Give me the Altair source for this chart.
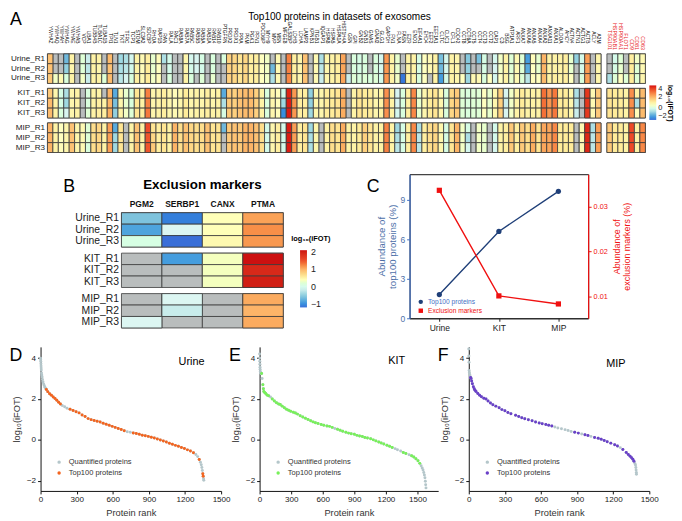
import altair as alt
import pandas as pd

N = None
FONT = "Liberation Sans"
ROWS_U = ["Urine_R1", "Urine_R2", "Urine_R3"]
ROWS_K = ["KIT_R1", "KIT_R2", "KIT_R3"]
ROWS_M = ["MIP_R1", "MIP_R2", "MIP_R3"]

GENES = """YWHAZ YWHAQ YWHAH YWHAG YWHAE YWHAB VCP UBA1 TUBB4B TUBA1C TUBA1B TPI1 TLN1 TKT TFRC TCP1 STOM SLC3A2 SDCBP RHOA RAP1B RAN RALA RAC1 RAB8A RAB7A RAB5C RAB5B RAB5A RAB1A RAB14 RAB10 PTGFRN PRDX2 PRDX1
PPIA PKM PGK1 PFN1 PDCD6IP MYH9 MVP MSN MFGE8 LGALS3BP LDHB LDHA LAMP2 KPNB1 ITGB1 IQGAP1 HSPA8 HSPA5 HSPA1A HIST1H4A GSN GPI GNB2 GNB1 GNAS GNAI2 GLG1 GAPDH FN1 FLNA FASN EZR ENO1 EIF4A1 EHD4 EEF2 EEF1A1 CLTC CLIC1 CFL1 CDC42
CCT8 CCT6A CCT5 CCT4 CCT3 CCT2 CAP1 C3 BSG ATP1A1 ARF1 ANXA7 ANXA6 ANXA5 ANXA4 ANXA2 ANXA11 ANXA1 ALDOA AHCY ACTN4 ACTN1 ACTG1 ACTB ACLY A2M""".split()
MARKERS = ["TSG101", "HSP90AB1", "HSP90AA1", "FLOT1", "CD9", "CD81", "CD63"]

Urine_R1 = [1.8,N,N,-1.0,1.0,N,0.3,-0.3,1.0,1.0,N,1.9,N,-0.6,-0.5,-0.1,1.0,0.8,1.1,0.4,0.7,-0.5,0.0,N,N,0.9,-0.1,-0.2,0.1,N,0.2,N,0.2,1.6,1.5,
 1.3,1.5,1.1,1.1,0.6,0.5,N,0.8,N,2.7,1.1,0.9,1.8,N,0.8,-0.5,0.9,1.0,1.1,2.2,N,0.2,0.1,0.2,N,0.2,-0.1,2.4,1.0,0.4,N,1.0,1.0,0.1,0.6,0.8,1.0,-0.9,-0.1,1.0,0.9,
 N,-0.8,N,-0.9,0.1,N,-0.1,0.5,1.0,0.3,0.8,0.3,-1.4,0.7,0.4,2.0,1.0,1.0,1.0,1.1,0.4,-0.7,0.0,2.3,N,0.9]
Urine_R2 = [1.8,N,N,-0.7,0.9,N,0.3,-0.4,1.0,0.9,N,1.8,N,-0.5,-0.4,0.0,1.0,0.7,1.2,0.4,0.6,N,0.0,N,N,0.9,0.0,-0.2,0.0,N,0.2,N,N,1.6,1.5,
 1.3,1.5,1.1,1.1,0.6,0.5,-1.0,0.8,N,2.7,1.1,0.9,1.8,N,0.8,-0.4,0.9,1.0,1.1,2.2,N,0.2,0.1,0.2,N,0.2,-0.1,2.4,1.0,0.4,N,1.0,1.0,0.1,0.6,0.8,1.0,-1.0,-0.1,1.0,0.9,
 N,-0.7,N,N,0.1,N,-0.2,0.5,1.0,0.3,0.8,0.3,-1.2,0.6,0.4,2.0,1.0,1.0,1.0,1.1,0.4,N,0.0,2.3,N,0.9]
Urine_R3 = [1.7,0.5,0.8,0.2,1.0,N,0.5,-0.3,1.0,1.0,0.3,1.9,N,-0.4,-0.2,0.2,1.1,0.8,1.2,0.5,0.7,N,0.2,N,N,1.0,0.2,N,0.3,N,0.4,N,N,1.6,1.5,
 1.3,1.5,1.1,1.1,0.6,0.5,-0.5,0.8,N,2.6,1.1,0.9,1.8,N,0.8,-0.3,0.9,1.0,1.1,2.2,-0.3,0.3,0.2,0.3,0.2,0.3,0.0,2.4,1.0,0.5,-1.9,1.0,1.0,0.2,0.6,N,1.0,-1.4,0.0,1.0,0.9,
 0.6,-0.6,0.8,0.8,0.2,0.6,-0.1,0.6,1.0,0.4,0.8,0.3,-0.4,0.7,0.6,1.9,1.0,1.1,1.0,1.1,0.6,N,0.2,2.3,N,0.9]
KIT_R1 = [1.7,0.9,0.1,-0.5,0.9,1.0,N,0.2,1.0,1.0,N,2.0,-1.2,0.9,0.4,0.2,1.3,1.0,2.7,0.9,1.0,1.1,0.9,0.7,0.9,1.2,0.9,1.0,0.9,1.1,0.9,1.0,-1.2,1.7,1.6,
 1.8,1.9,1.9,1.6,1.0,0.2,0.9,0.7,0.0,3.8,2.4,1.1,1.1,-0.7,0.9,0.9,1.2,1.2,1.3,2.1,N,1.0,1.3,1.2,1.2,0.9,1.0,2.5,1.0,-0.2,0.2,1.1,2.6,0.4,0.9,1.2,1.3,0.9,0.2,1.5,1.7,
 0.3,0.2,0.3,0.3,0.6,0.4,0.9,1.6,-0.2,0.5,1.0,1.2,1.0,1.0,1.0,2.9,2.4,2.8,1.2,1.2,0.9,-0.5,N,3.6,0.8,1.7]
KIT_R2 = [1.9,1.0,0.1,-0.6,0.9,1.0,N,0.2,1.0,1.1,1.0,2.0,-0.9,0.9,0.4,0.2,1.3,1.0,2.7,0.9,1.0,1.1,0.9,0.7,0.9,1.2,0.9,1.0,0.9,1.1,0.9,1.0,-0.5,1.7,1.6,
 1.8,1.9,1.9,1.6,1.0,0.2,0.9,0.7,-0.6,3.9,2.4,1.1,1.1,-0.7,0.9,0.9,1.2,1.2,1.3,2.1,N,1.0,1.3,1.2,1.2,0.9,1.0,2.5,1.0,-0.2,0.2,1.1,2.6,0.4,0.9,1.2,1.3,0.9,0.2,1.5,1.7,
 0.3,0.2,0.3,0.3,0.6,0.4,0.9,1.6,-0.3,0.5,1.0,1.2,1.0,1.0,1.0,2.9,2.4,2.8,1.2,1.2,0.9,-0.4,N,3.6,0.8,1.7]
KIT_R3 = [1.9,1.0,0.2,-0.2,0.9,1.0,N,0.3,1.0,1.1,1.1,2.1,-0.7,1.0,0.5,0.3,1.3,1.1,2.8,0.9,1.0,1.1,0.9,0.8,0.9,1.2,0.9,1.0,1.0,1.1,1.0,1.0,0.1,1.7,1.6,
 1.8,1.9,1.9,1.6,1.0,0.2,0.9,0.7,-1.6,3.9,2.4,1.1,1.1,-0.6,0.9,0.9,1.2,1.2,1.3,2.1,N,1.0,1.3,1.2,1.2,0.9,1.0,2.5,1.0,-0.1,0.2,1.1,2.6,0.4,0.9,1.2,1.3,0.9,0.2,1.5,1.7,
 0.3,0.2,0.3,0.3,0.6,0.4,0.9,1.6,-0.2,0.5,1.0,1.2,1.0,1.0,1.0,2.9,2.4,2.8,1.2,1.2,0.9,-0.3,N,3.6,0.8,1.7]
MIP_R1 = [2.0,1.0,0.6,0.9,1.8,0.9,0.8,0.3,1.4,1.5,1.0,2.3,-1.2,1.3,N,1.0,1.8,1.0,3.3,1.3,1.1,1.3,1.0,2.0,1.4,1.8,1.5,1.4,1.4,1.8,1.3,1.3,-1.0,1.7,1.8,
 1.7,2.0,2.0,1.8,1.4,0.0,0.9,1.1,0.0,3.9,2.3,1.1,1.3,-0.6,0.9,N,1.0,1.4,1.3,2.1,1.0,1.0,1.2,1.6,1.3,1.0,1.0,2.7,1.0,-0.6,0.1,1.1,2.6,-0.5,1.1,1.4,1.5,0.9,0.1,1.3,2.0,
 0.5,0.1,N,0.5,0.4,N,0.0,1.0,1.1,1.7,1.1,1.7,1.4,2.1,1.3,2.2,2.2,2.6,1.2,1.2,1.2,N,0.8,3.8,-0.5,2.3]
MIP_R2 = [2.0,1.0,0.6,0.9,1.8,0.9,0.8,0.3,1.4,1.5,1.0,2.3,-0.6,1.3,N,1.0,1.8,1.0,3.2,1.5,1.1,1.3,1.0,2.0,1.4,1.8,1.5,1.4,1.4,1.8,1.3,1.3,N,1.7,1.8,
 1.7,2.0,2.0,1.8,1.4,0.0,0.9,1.1,0.0,3.9,2.3,1.1,1.3,-0.5,0.9,N,1.0,1.4,1.3,2.1,1.0,1.0,1.2,1.6,1.3,1.0,1.0,2.7,1.0,-0.5,0.1,1.1,2.6,-0.4,1.1,1.4,1.5,0.9,0.1,1.3,2.0,
 0.5,-0.5,N,0.5,0.4,N,0.0,1.0,1.1,1.7,1.1,1.7,1.4,2.1,1.3,2.2,2.2,2.6,1.2,1.2,1.2,N,0.8,3.8,-0.4,2.3]
MIP_R3 = [2.0,1.0,0.7,0.9,1.8,0.9,0.8,0.2,1.4,1.5,1.0,2.3,-0.6,1.3,N,1.0,1.8,0.9,3.2,1.7,1.1,1.3,1.0,2.0,1.4,1.8,1.5,1.4,1.4,1.8,1.3,1.3,N,1.7,1.8,
 1.7,2.0,2.0,1.8,1.4,0.0,0.9,1.1,0.0,3.9,2.3,1.1,1.3,-0.5,0.9,N,1.0,1.4,1.3,2.1,1.0,1.0,1.2,1.6,1.3,1.0,1.0,2.7,1.0,-0.4,0.1,1.1,2.6,-0.4,1.1,1.4,1.5,0.9,0.1,1.3,2.0,
 0.5,-0.1,N,0.5,0.4,N,-0.1,1.0,1.1,1.7,1.1,1.7,1.4,2.1,1.3,2.2,2.2,2.6,1.2,1.2,1.2,N,0.8,3.8,-0.4,2.3]

MARK_VALUES = {
 "Urine_R1": [N,0.0,0.3,N,1.1,0.5,0.8],
 "Urine_R2": [N,0.1,0.4,N,1.2,0.3,0.8],
 "Urine_R3": [-0.5,0.3,0.6,0.3,1.2,0.3,0.9],
 "KIT_R1": [1.3,1.2,1.2,1.0,2.5,1.0,1.9],
 "KIT_R2": [1.3,1.2,1.2,1.0,2.5,-0.5,1.9],
 "KIT_R3": [1.3,1.2,1.2,1.0,2.5,0.7,1.9],
 "MIP_R1": [1.7,1.2,1.2,1.0,3.3,1.0,2.6],
 "MIP_R2": [1.7,1.2,1.2,1.0,3.3,1.0,2.6],
 "MIP_R3": [1.7,1.2,1.2,1.0,3.3,1.0,2.6],
}
MAIN_VALUES = {"Urine_R1": Urine_R1, "Urine_R2": Urine_R2, "Urine_R3": Urine_R3,
               "KIT_R1": KIT_R1, "KIT_R2": KIT_R2, "KIT_R3": KIT_R3,
               "MIP_R1": MIP_R1, "MIP_R2": MIP_R2, "MIP_R3": MIP_R3}

EXCL = ["PGM2", "SERBP1", "CANX", "PTMA"]
EXCL_VALUES = {
 "Urine_R1": [-0.6,-1.1,0.4,1.1],
 "Urine_R2": [-0.85,-0.1,0.4,1.2],
 "Urine_R3": [0.1,-1.25,0.45,1.15],
 "KIT_R1": [N,-0.9,0.35,2.1],
 "KIT_R2": [N,N,0.35,1.9],
 "KIT_R3": [N,N,0.35,2.0],
 "MIP_R1": [N,-0.1,N,1.05],
 "MIP_R2": [N,-0.2,N,1.0],
 "MIP_R3": [-0.1,N,N,1.05],
}

CATS = ["Urine", "KIT", "MIP"]
TOP100_ABUND = [1.8, 6.6, 9.65]
EXCL_ABUND = [0.0337, 0.0101, 0.0083]

D_CURVE = [(0,4.0),(1,3.92),(2,3.83),(3,3.72),(4,3.62),(5,3.52),(6,3.42),(8,3.27),(10,3.18),(13,3.08),(16,2.96),(20,2.84),(25,2.74),(30,2.66),(36,2.58),(42,2.52),(48,2.46),(60,2.36),(75,2.26),(90,2.18),(105,2.1),(120,2.02),(135,1.94),(150,1.84),(165,1.76),(180,1.68),(200,1.62),(220,1.55),(245,1.5),(270,1.44),(295,1.38),(320,1.32),(345,1.22),(370,1.14),(395,1.04),(420,.99),(445,.95),(470,.91),(495,.87),(520,.81),(545,.76),(570,.71),(595,.66),(620,.61),(645,.56),(670,.51),(695,.45),(720,.4),(745,.37),(770,.34),(795,.31),(820,.27),(845,.23),(870,.2),(895,.17),(920,.13),(945,.09),(970,.04),(995,-.01),(1020,-.06),(1045,-.11),(1070,-.17),(1095,-.22),(1120,-.27),(1145,-.31),(1170,-.37),(1195,-.42),(1220,-.49),(1245,-.55),(1270,-.63),(1290,-.72),(1305,-.82),(1318,-.96),(1328,-1.1),(1335,-1.22),(1340,-1.35),(1344,-1.5),(1348,-1.66),(1351,-1.78),(1354,-1.9),(1356,-1.98)]
E_CURVE = [(0,4.2),(1,4.0),(2,3.85),(3,3.7),(4,3.55),(5,3.45),(7,3.35),(9,3.28),(12,3.25),(15,3.25),(19,3.25),(24,3.0),(31,2.7),(36,2.5),(40,2.37),(48,2.32),(58,2.27),(70,2.2),(85,2.16),(103,2.1),(120,2.0),(140,1.9),(160,1.82),(180,1.76),(196,1.73),(215,1.65),(235,1.57),(255,1.5),(275,1.45),(295,1.4),(320,1.35),(340,1.31),(360,1.26),(385,1.18),(410,1.12),(435,1.06),(460,1.0),(485,.93),(508,.88),(530,.84),(555,.8),(585,.75),(610,.72),(640,.68),(664,.66),(690,.61),(715,.56),(740,.52),(765,.47),(790,.42),(820,.37),(845,.33),(870,.3),(900,.27),(925,.22),(950,.19),(976,.16),(1000,.12),(1025,.09),(1055,.05),(1080,.0),(1105,-.05),(1132,-.11),(1155,-.15),(1180,-.2),(1210,-.26),(1235,-.31),(1260,-.37),(1288,-.43),(1310,-.48),(1340,-.55),(1365,-.62),(1390,-.67),(1420,-.73),(1444,-.78),(1465,-.84),(1485,-.92),(1505,-1.02),(1522,-1.15),(1535,-1.27),(1545,-1.38),(1553,-1.47),(1560,-1.6),(1566,-1.72),(1571,-1.85),(1575,-2.03),(1578,-2.2),(1581,-2.35)]
F_CURVE = [(0,4.45),(1,4.1),(2,3.8),(3,3.4),(5,3.3),(8,3.2),(12,3.1),(15,3.05),(19,3.0),(24,2.88),(30,2.75),(38,2.6),(45,2.5),(52,2.43),(60,2.37),(75,2.27),(90,2.18),(105,2.11),(125,2.04),(143,2.0),(160,1.9),(180,1.8),(200,1.72),(225,1.65),(252,1.57),(275,1.48),(300,1.42),(325,1.34),(350,1.28),(389,1.2),(415,1.14),(440,1.08),(465,1.03),(495,.98),(526,.93),(555,.87),(585,.83),(610,.79),(640,.75),(664,.72),(690,.68),(715,.63),(740,.58),(770,.54),(800,.5),(825,.46),(850,.41),(880,.37),(910,.33),(938,.29),(965,.25),(990,.21),(1015,.17),(1045,.12),(1075,.08),(1100,.03),(1125,-.03),(1150,-.09),(1180,-.16),(1212,-.24),(1235,-.3),(1258,-.38),(1280,-.47),(1308,-.62),(1325,-.72),(1340,-.8),(1352,-.87),(1363,-.95),(1372,-1.05),(1380,-1.16),(1385,-1.23),(1388,-1.35),(1390,-1.47),(1392,-1.6),(1393,-1.68)]
D_TOP_SPANS = [(48,170),(245,695),(770,1270),(1318,1318),(1348,1351)]
E_TOP_SPANS = [(19,19),(31,40),(48,85),(120,700),(740,1000),(1025,1260),(1365,1390),(1444,1522)]
F_TOP_SPANS = [(15,700),(880,910),(940,1000),(1045,1235),(1280,1372)]

A_DOMAIN = [-2, -1, -0.2, 0.6, 1.2, 1.8, 2.5, 3.3, 4]
A_RANGE = ["#3a6fd8", "#6fb8dc", "#d8f4f0", "#ffffc0", "#ffec9a", "#fdc274", "#f98f4c", "#ee4a28", "#d8100f"]
B_DOMAIN = [-1.2, -0.7, -0.1, 0.4, 1.0, 1.5, 2.1]
B_RANGE = ["#3a6fd8", "#6fb8dc", "#dcf6f2", "#ffffb8", "#fdb468", "#ec4a2a", "#cc1010"]
GREY = "#b9bdbd"
EDGE = "#3c3c3c"


def blank(width=1, height=1):
    return alt.Chart(alt.Data(values=[{"a": 0}])).mark_point(opacity=0, size=0, strokeWidth=0).properties(width=width, height=height)


def note(text, x, y, size=10, weight="normal", color="black", align="center", angle=0, font=FONT):
    return alt.Chart(alt.Data(values=[{"t": text}])).mark_text(
        fontSize=size, fontWeight=weight, color=color, align=align, baseline="middle", angle=angle, font=font
    ).encode(x=alt.value(x), y=alt.value(y), text="t:N")


def hc(*c, spacing):
    return alt.hconcat(*c, spacing=spacing).resolve_scale(color="independent", shape="independent").resolve_legend(color="independent", shape="independent")


def vc(*c, spacing):
    return alt.vconcat(*c, spacing=spacing).resolve_scale(color="independent", shape="independent").resolve_legend(color="independent", shape="independent")


def heat(rows, cols, values, w, rowh, domain, crange, lab=True, top=False, collab=None, extra=None):
    recs = [{"row": r, "col": c, "v": values[r][i]} for r in rows for i, c in enumerate(cols)]
    df = pd.DataFrame(recs)
    xaxis = None
    if top:
        xaxis = alt.Axis(orient="top", ticks=False, domain=False, title=None, **collab)
    x = alt.X("col:N", sort=cols, scale=alt.Scale(domain=cols, paddingInner=0, paddingOuter=0), axis=xaxis, title=None)
    yaxis = alt.Axis(ticks=False, domain=False, title=None, labelFontSize=lab, labelPadding=3, labelColor="#222") if lab else None
    y = alt.Y("row:N", sort=rows, scale=alt.Scale(domain=rows, paddingInner=0, paddingOuter=0), axis=yaxis, title=None)
    under = alt.Chart(df).mark_rect(fill=GREY, stroke=EDGE, strokeWidth=0.8).encode(x=x, y=y)
    over = alt.Chart(df).transform_filter("isValid(datum.v)").mark_rect(stroke=EDGE, strokeWidth=0.8).encode(
        x=x, y=y,
        color=alt.Color("v:Q", scale=alt.Scale(domain=domain, range=crange, clamp=True), legend=None),
    )
    layers = [under, over] + (extra or [])
    return alt.layer(*layers).properties(width=w, height=rowh * len(rows))


def colorbar(domain, crange, legend, extra):
    pts = alt.Chart(pd.DataFrame({"v": domain})).mark_point(opacity=0, size=0, strokeWidth=0).encode(
        color=alt.Color("v:Q", scale=alt.Scale(domain=domain, range=crange), legend=legend))
    return alt.layer(pts, *extra).properties(width=1, height=1)


# ---------- Panel A
gene_axis = dict(labelFontSize=4.9, labelAngle=90, labelAlign="right", labelBaseline="middle", labelPadding=11, labelColor="#000")
mark_axis = dict(labelFontSize=5.4, labelAngle=90, labelAlign="right", labelBaseline="middle", labelPadding=4.5, labelColor="#e8201c")
A_LEG = alt.Legend(orient="none", legendX=0, legendY=32, direction="vertical", gradientLength=35, gradientThickness=7,
                   title=None, values=[-2, 0, 2, 4], labelFontSize=7.5, labelOffset=2, labelColor="#222")

a_top_notes = [note("A", -32, -34, size=18, align="center"),
               note("Top100 proteins in datasets of exosomes", 296, -37, size=10.2)]
a_u = heat(ROWS_U, GENES, MAIN_VALUES, 561, 10, A_DOMAIN, A_RANGE, lab=8.2, top=True, collab=gene_axis, extra=a_top_notes)
a_k = heat(ROWS_K, GENES, MAIN_VALUES, 561, 10, A_DOMAIN, A_RANGE, lab=8.2)
a_m = heat(ROWS_M, GENES, MAIN_VALUES, 561, 10, A_DOMAIN, A_RANGE, lab=8.2)
am_u = heat(ROWS_U, MARKERS, MARK_VALUES, 39, 10, A_DOMAIN, A_RANGE, lab=False, top=True, collab=mark_axis)
am_k = heat(ROWS_K, MARKERS, MARK_VALUES, 39, 10, A_DOMAIN, A_RANGE, lab=False)
am_m = heat(ROWS_M, MARKERS, MARK_VALUES, 39, 10, A_DOMAIN, A_RANGE, lab=False)
a_bar = colorbar(A_DOMAIN, A_RANGE, A_LEG, [note("log\u2081\u2080(iFOT)", 21, 50, size=7, weight="bold", angle=90)])
row_a = hc(blank(), hc(vc(a_u, a_k, a_m, spacing=3), vc(am_u, am_k, am_m, spacing=3), a_bar, spacing=3), spacing=0)

# ---------- Panel B
b_axis = dict(labelFontSize=8.6, labelFontWeight="bold", labelAngle=0, labelPadding=4, labelColor="#111")
B_LEG = alt.Legend(orient="none", legendX=16, legendY=38, direction="vertical", gradientLength=58, gradientThickness=7,
                   title=None, values=[-1, 0, 1, 2], labelFontSize=9, labelOffset=4, labelColor="#222")
b_head = alt.layer(
    blank(164, 20),
    note("Exclusion markers", 82, 11, size=13.5, weight="bold"),
    note("B", -53, 13, size=18),
).properties(width=164, height=20)
b_u = heat(ROWS_U, EXCL, EXCL_VALUES, 164, 11.6, B_DOMAIN, B_RANGE, lab=10.5, top=True, collab=b_axis)
b_k = heat(ROWS_K, EXCL, EXCL_VALUES, 164, 11.6, B_DOMAIN, B_RANGE, lab=10.5)
b_m = heat(ROWS_M, EXCL, EXCL_VALUES, 164, 11.6, B_DOMAIN, B_RANGE, lab=10.5)
b_bar = colorbar(B_DOMAIN, B_RANGE, B_LEG, [note("log\u2081\u2080(iFOT)", 27, 27, size=7.5, weight="bold")])
panel_b = vc(b_head, hc(vc(b_u, b_k, b_m, spacing=4), b_bar, spacing=0), spacing=4)

# ---------- Panel C
cdf = pd.DataFrame({"cat": CATS * 2,
                    "series": ["Top100 proteins"] * 3 + ["Exclusion markers"] * 3,
                    "top": TOP100_ABUND + [None] * 3,
                    "ex": [None] * 3 + EXCL_ABUND})
SERIES = ["Top100 proteins", "Exclusion markers"]
SC = alt.Scale(domain=SERIES, range=["#1f3f78", "#f01010"])
SH = alt.Scale(domain=SERIES, range=["circle", "square"])
xc = alt.X("cat:N", sort=CATS, title=None, scale=alt.Scale(domain=CATS, paddingInner=1, paddingOuter=0.5),
           axis=alt.Axis(labelAngle=0, labelFontSize=8.6, domainColor="#222", tickColor="#222", tickSize=3, labelColor="#222"))
BLUE = "#3f6fc4"
BLUEL = "#4d6fa8"
RED = "#f01010"
y_top = alt.Y("top:Q", scale=alt.Scale(domain=[0, 10.95], nice=False), axis=alt.Axis(
    orient="left", values=[0, 3, 6, 9], grid=False, domainColor=BLUE, tickColor=BLUE, labelColor=BLUEL, labelFontSize=8.6,
    title=["Abundance of", "top100 proteins (%)"], titleColor=BLUEL, titleFontSize=9.8, titleFontWeight="normal", tickSize=3, titlePadding=2, domainWidth=1.2))
y_ex = alt.Y("ex:Q", scale=alt.Scale(domain=[0.0051, 0.0373], nice=False), axis=alt.Axis(
    orient="right", values=[0.01, 0.02, 0.03], format=".2f", grid=False, domainColor=RED, tickColor=RED, labelColor=RED, labelFontSize=7.4,
    title=["Abundance of", "exclusion markers (%)"], titleColor=RED, titleFontSize=9, titleFontWeight="normal", tickSize=3, titleAngle=270, titlePadding=3, domainWidth=1.2))
C_LEG = alt.Legend(orient="none", legendX=8, legendY=126, title=None, labelFontSize=6.7, symbolSize=20, rowPadding=1,
                   labelColor={"expr": "datum.label == 'Exclusion markers' ? '#f01010' : '#3f6fc4'"})
color_c = alt.Color("series:N", scale=SC, legend=C_LEG)
shape_c = alt.Shape("series:N", scale=SH, legend=C_LEG)
base_top = alt.Chart(cdf).transform_filter("isValid(datum.top)")
base_ex = alt.Chart(cdf).transform_filter("isValid(datum.ex)")
left = alt.layer(base_top.mark_line(strokeWidth=1.4, color="#1f3f78").encode(x=xc, y=y_top),
                 base_top.mark_point(filled=True, size=28, opacity=1).encode(x=xc, y=y_top, color=color_c, shape=shape_c))
right = alt.layer(base_ex.mark_line(strokeWidth=1.4, color=RED).encode(x=xc, y=y_ex),
                  base_ex.mark_point(filled=True, size=28, opacity=1).encode(x=xc, y=y_ex, color=color_c, shape=shape_c))
panel_c = alt.layer(alt.layer(left, right).resolve_scale(y="independent"),
                    note("C", -37, 13, size=18)).properties(
    width=181, height=146, view=alt.ViewConfig(stroke="#111", strokeWidth=1, strokeOpacity=1))

row_bc = hc(blank(), hc(panel_b, panel_c, spacing=36), spacing=54)


# ---------- Panels D, E, F
def rank_panel(curve, spans, xmax, w, top_color, name, nx, ny, letter, lx, ticks):
    recs = []
    for r, v in curve:
        recs.append({"rank": r, "v": v, "s": "Quantified proteins"})
    for r, v in curve:
        if any(a <= r <= b for a, b in spans):
            recs.append({"rank": r, "v": v, "s": "Top100 proteins"})
    df = pd.DataFrame(recs)
    pts = alt.Chart(df).mark_circle(size=9, opacity=1).encode(
        x=alt.X("rank:Q", scale=alt.Scale(domain=[0, xmax], nice=False),
                axis=alt.Axis(values=ticks, format="d", labelFlush=False, grid=False, title="Protein rank", titleFontSize=9.4, titleFontWeight="normal",
                              labelFontSize=8.2, domainColor="#111", tickColor="#111", labelColor="#222", titleColor="#333", tickSize=3, titlePadding=6)),
        y=alt.Y("v:Q", scale=alt.Scale(domain=[-2.5, 4.55], nice=False),
                axis=alt.Axis(values=[-2, 0, 2, 4], grid=False, title="log\u2081\u2080(iFOT)", titleFontSize=9.4, titleFontWeight="normal",
                              labelFontSize=8.2, domainColor="#111", tickColor="#111", labelColor="#222", titleColor="#333", tickSize=3, titlePadding=5)),
        color=alt.Color("s:N", scale=alt.Scale(domain=["Quantified proteins", "Top100 proteins"], range=["#b4c6ca", top_color]),
                        legend=alt.Legend(orient="none", legendX=15, legendY=113, title=None, labelFontSize=7.6, symbolSize=12, rowPadding=2, labelOffset=6, labelColor="#333")),
    )
    return alt.layer(pts, note(name, nx, ny, size=11), note(letter, lx, 9, size=18)).properties(width=w, height=146)


TICKS = [0, 300, 600, 900, 1200, 1500]
d = rank_panel(D_CURVE, D_TOP_SPANS, 1500, 183, "#f4641e", "Urine", 153, 15, "D", -25, TICKS)
e = rank_panel(E_CURVE, E_TOP_SPANS, 1697, 181, "#78f05a", "KIT", 139, 14, "E", -25, TICKS)
f = rank_panel(F_CURVE, F_TOP_SPANS, 1500, 183, "#6a40c8", "MIP", 149, 17, "F", -26, TICKS)
row_def = hc(blank(), hc(hc(d, e, spacing=-3), f, spacing=-1), spacing=0)

chart = vc(vc(row_a, row_bc, spacing=20), row_def, spacing=14).properties(
    padding=0
).configure(font=FONT).configure_view(stroke="transparent", strokeWidth=0)
chart.save("out.html", embed_options={"renderer": "svg", "actions": False})
